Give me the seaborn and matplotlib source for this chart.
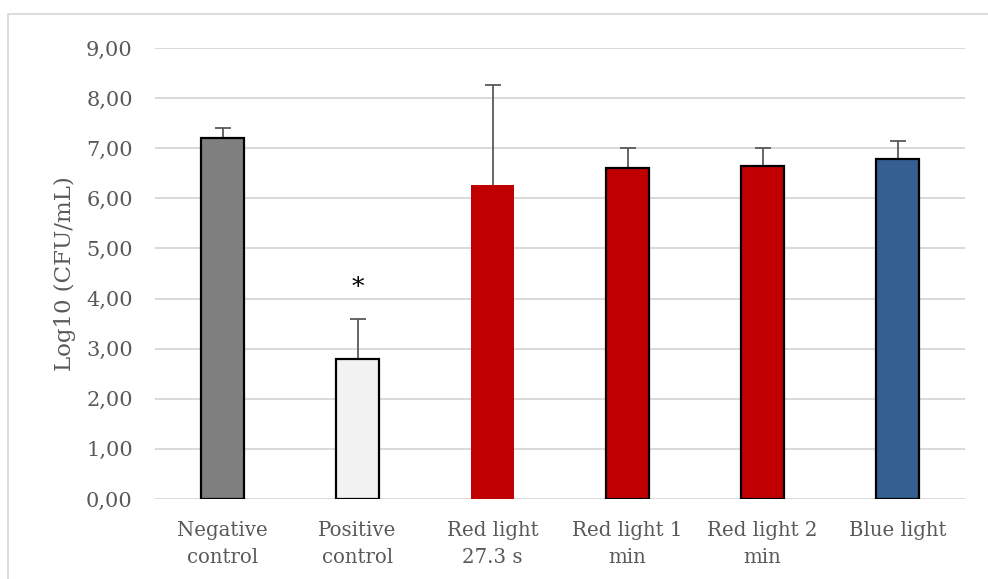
import matplotlib
matplotlib.use("Agg")
import matplotlib.pyplot as plt
import seaborn as sns
import pandas as pd
import numpy as np
from matplotlib.patches import Rectangle
from matplotlib.ticker import FuncFormatter

categories = ["Negative\ncontrol", "Positive\ncontrol", "Red light\n27.3 s",
              "Red light 1\nmin", "Red light 2\nmin", "Blue light"]
means = [7.21, 2.79, 6.27, 6.61, 6.65, 6.79]
err_up = [0.19, 0.80, 1.99, 0.40, 0.36, 0.36]
colors = ["#7f7f7f", "#f2f2f2", "#c00000", "#c00000", "#c00000", "#355f91"]
edges = ["black", "black", "none", "black", "black", "black"]
yticks = [0, 1, 2, 3, 4, 5, 6, 7, 8, 9]
star_y = 4.0

sns.set_theme(style="white")
plt.rcParams['font.family'] = ['DejaVu Serif']

df = pd.DataFrame({"cat": categories, "val": means})

fig = plt.figure(figsize=(9.88, 5.79), dpi=100)
fig.patches.append(Rectangle((8/988, -0.1), 1.2, 1 - 13.5/579 + 0.1,
                             transform=fig.transFigure, fill=False,
                             edgecolor="#d9d9d9", linewidth=1.3, zorder=0))
ax = fig.add_axes([155/988, 1 - 499/579, 810/988, 451/579])

sns.barplot(data=df, x="cat", y="val", hue="cat", palette=colors, legend=False,
            width=0.32, ax=ax, zorder=3, saturation=1)
for patch, ec in zip(ax.patches, edges):
    if ec == "none":
        patch.set_edgecolor("none")
        patch.set_linewidth(0)
    else:
        patch.set_edgecolor(ec)
        patch.set_linewidth(1.6)

xs = list(range(len(categories)))
eb = ax.errorbar(xs, means, yerr=[[0]*len(means), err_up], fmt="none",
                 ecolor="#595959", elinewidth=1.3, capsize=6, capthick=1.3, zorder=2)
# hide the lower caps (zero-length lower error)
for cl in eb[1]:
    yd = np.asarray(cl.get_ydata(), dtype=float)
    if np.allclose(yd, means):
        cl.set_visible(False)

ax.text(1, star_y, "*", ha="center", va="bottom", fontsize=18, color="black")

ax.set_ylim(0, 9)
ax.set_xlim(-0.5, 5.5)
ax.set_yticks(yticks)
ax.yaxis.set_major_formatter(FuncFormatter(lambda v, p: f"{v:.2f}".replace(".", ",")))
ax.grid(axis="y", color="#d9d9d9", linewidth=1.4, zorder=0)
ax.set_axisbelow(True)
for s in ax.spines.values():
    s.set_visible(False)
ax.tick_params(axis="both", length=0, colors="#595959")
ax.tick_params(axis="y", pad=16, labelsize=15)
ax.tick_params(axis="x", pad=16, labelsize=14.2)
for lab in ax.get_xticklabels():
    lab.set_linespacing(1.5)
ax.set_xlabel("")
ax.set_ylabel("Log10 (CFU/mL)", fontsize=16.5, color="#595959")
ax.yaxis.set_label_coords(-0.097, 0.5)

fig.savefig("out.png", dpi=100)
